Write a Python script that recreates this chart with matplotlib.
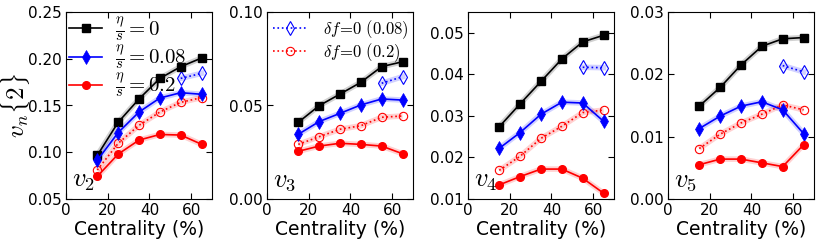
import matplotlib
matplotlib.use("Agg")
import matplotlib.pyplot as plt

plt.rcParams["mathtext.fontset"] = "cm"
plt.rcParams["font.family"] = ["DejaVu Sans"]

cent = [15, 25, 35, 45, 55, 65]
cent_df = [55, 65]

# v2
v2_ideal = [0.0967, 0.132, 0.157, 0.179, 0.1915, 0.2008]
v2_008 = [0.0914, 0.121, 0.143, 0.158, 0.1637, 0.162]
v2_02 = [0.0742, 0.098, 0.113, 0.119, 0.1184, 0.1085]
v2_df02 = [0.081, 0.1095, 0.1288, 0.143, 0.1534, 0.1584]
v2_df008 = [0.179, 0.1844]

# v3
v3_ideal = [0.041, 0.0499, 0.0561, 0.0624, 0.0708, 0.0734]
v3_008 = [0.0346, 0.0414, 0.0458, 0.0503, 0.0535, 0.0529]
v3_02 = [0.0255, 0.0283, 0.0298, 0.0292, 0.0283, 0.0242]
v3_df02 = [0.0292, 0.0333, 0.0373, 0.0392, 0.0437, 0.0444]
v3_df008 = [0.0619, 0.0654]

# v4
v4_ideal = [0.0274, 0.0329, 0.0383, 0.0437, 0.0478, 0.0494]
v4_008 = [0.0222, 0.026, 0.0304, 0.0333, 0.0331, 0.0287]
v4_02 = [0.0134, 0.0154, 0.0172, 0.0172, 0.015, 0.0114]
v4_df02 = [0.0169, 0.0203, 0.0246, 0.0275, 0.0308, 0.0314]
v4_df008 = [0.0417, 0.0416]

# v5
v5_ideal = [0.0149, 0.0179, 0.0215, 0.0245, 0.0257, 0.0259]
v5_008 = [0.0113, 0.0133, 0.0149, 0.0156, 0.0143, 0.0105]
v5_02 = [0.0055, 0.0064, 0.0064, 0.0058, 0.0052, 0.0087]
v5_df02 = [0.0081, 0.0104, 0.0122, 0.0136, 0.0151, 0.0143]
v5_df008 = [0.0214, 0.0204]

panels = [
    ("$v_2$", (0.05, 0.25), [0.05, 0.10, 0.15, 0.20, 0.25],
     v2_ideal, v2_008, v2_02, v2_df02, v2_df008),
    ("$v_3$", (0.0, 0.1), [0.0, 0.05, 0.10],
     v3_ideal, v3_008, v3_02, v3_df02, v3_df008),
    ("$v_4$", (0.01, 0.055), [0.01, 0.02, 0.03, 0.04, 0.05],
     v4_ideal, v4_008, v4_02, v4_df02, v4_df008),
    ("$v_5$", (0.0, 0.03), [0.0, 0.01, 0.02, 0.03],
     v5_ideal, v5_008, v5_02, v5_df02, v5_df008),
]

fig = plt.figure(figsize=(8.3, 2.49), dpi=100)
lefts = [66, 267, 468, 668]
W, H = 830.0, 249.0

for i, (lab, ylim, yt, ideal, v008, v02, df02, df008) in enumerate(panels):
    ax = fig.add_axes([lefts[i] / W, (H - 199) / H, 146 / W, 187 / H])
    # shaded bands
    for y, c in [(ideal, "k"), (v008, "b"), (v02, "r"), (df02, "r")]:
        ax.plot(cent, y, color=c, lw=4, alpha=0.18, solid_capstyle="butt", zorder=1)
    ax.plot(cent_df, df008, color="b", lw=4, alpha=0.18, zorder=1)

    l1, = ax.plot(cent, ideal, "k-", marker="s", ms=5.5, lw=1.2, label=r"$\frac{\eta}{s}=0$", zorder=3)
    l2, = ax.plot(cent, v008, "b-", marker="d", ms=7, mew=0.5, lw=1.2, label=r"$\frac{\eta}{s}=0.08$", zorder=3)
    l3, = ax.plot(cent, v02, "r-", marker="o", ms=5.5, lw=1.2, label=r"$\frac{\eta}{s}=0.2$", zorder=3)
    l4, = ax.plot(cent_df, df008, color="b", ls=":", marker="d", ms=7, mfc="none", mec="b", mew=0.8,
                  lw=1.2, label=r"$\delta f\!=\!0\ (0.08)$", zorder=2)
    l5, = ax.plot(cent, df02, color="r", ls=":", marker="o", ms=6, mfc="none", mec="r", mew=0.8,
                  lw=1.2, label=r"$\delta f\!=\!0\ (0.2)$", zorder=2)

    ax.set_xlim(0, 70)
    ax.set_ylim(*ylim)
    ax.set_xticks([0, 20, 40, 60])
    ax.set_yticks(yt)
    ax.set_yticklabels(["%.2f" % v for v in yt])
    ax.tick_params(direction="in", top=True, right=True, labelsize=11, length=4, pad=3)
    ax.set_xlabel("Centrality (%)", fontsize=13.5, labelpad=1)
    ax.text(0.04, 0.03, lab, transform=ax.transAxes, fontsize=19, ha="left", va="bottom")

    if i == 0:
        ax.set_ylabel(r"$v_n\{2\}$", fontsize=18)
        ax.yaxis.set_label_coords(-0.235, 0.5)
        ax.legend(handles=[l1, l2, l3], loc="upper left", frameon=False, fontsize=15,
                  numpoints=1, handlelength=1.6, borderaxespad=0.05, borderpad=0.1,
                  labelspacing=0.05, handletextpad=0.6)
    if i == 1:
        ax.legend(handles=[l4, l5], loc="upper left", frameon=False, fontsize=12,
                  numpoints=1, handlelength=2.0, borderaxespad=0.15, borderpad=0.2,
                  labelspacing=0.05, handletextpad=1.0)

fig.savefig("out.png", dpi=100)
